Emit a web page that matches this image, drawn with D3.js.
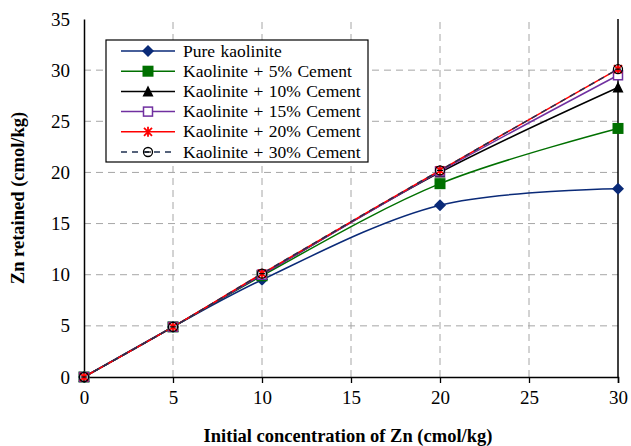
<!DOCTYPE html>
<html>
<head>
<meta charset="utf-8">
<script src="https://cdn.jsdelivr.net/npm/d3@7"></script>
<style>
  body { margin: 0; background: #fff; }
</style>
</head>
<body>
<div id="chart"></div>
<script>
// Chart data
const concentrations = [0, 5, 10, 20, 30];
const seriesNames = [
  "Pure kaolinite",
  "Kaolinite + 5% Cement",
  "Kaolinite + 10% Cement",
  "Kaolinite + 15% Cement",
  "Kaolinite + 20% Cement",
  "Kaolinite + 30% Cement"
];
const pureKaolinite = [0, 4.9, 9.5, 16.8, 18.4];
const cement5 = [0, 4.9, 9.9, 18.9, 24.3];
const cement10 = [0, 4.9, 10.0, 20.0, 28.3];
const cement15 = [0, 4.9, 10.0, 20.1, 29.5];
const cement20 = [0, 4.9, 10.1, 20.2, 30.1];
const cement30 = [0, 4.9, 10.1, 20.2, 30.1];
const xTicks = [0, 5, 10, 15, 20, 25, 30];
const yTicks = [0, 5, 10, 15, 20, 25, 30, 35];

const FONT = "Liberation Serif";
const width = 631, height = 446;
const margin = { top: 19, right: 13, bottom: 69, left: 84 };

const svg = d3.select("#chart").append("svg")
  .attr("width", width)
  .attr("height", height);

const x = d3.scaleLinear().domain([0, 30]).range([margin.left, width - margin.right]);
const y = d3.scaleLinear().domain([0, 35]).range([height - margin.bottom, margin.top]);

// Grid lines
const grid = svg.append("g").attr("class", "grid");
grid.selectAll("line.h")
  .data(yTicks.filter(d => d > 0 && d < 35))
  .enter().append("line")
  .attr("x1", x(0)).attr("x2", x(30))
  .attr("y1", d => y(d)).attr("y2", d => y(d))
  .attr("stroke", "#a6a6a6").attr("stroke-dasharray", "7,5");
grid.selectAll("line.v")
  .data(xTicks.filter(d => d > 0 && d < 30))
  .enter().append("line")
  .attr("y1", y(0)).attr("y2", y(35))
  .attr("x1", d => x(d)).attr("x2", d => x(d))
  .attr("stroke", "#a6a6a6").attr("stroke-dasharray", "7,5");

// Axes
const xAxis = svg.append("g")
  .attr("transform", `translate(0,${y(0)})`)
  .call(d3.axisBottom(x).tickValues(xTicks).tickSize(6).tickPadding(8));
const yAxis = svg.append("g")
  .attr("transform", `translate(${x(0)},0)`)
  .call(d3.axisLeft(y).tickValues(yTicks).tickSize(0).tickPadding(14));

[xAxis, yAxis].forEach(a => {
  a.attr("font-family", FONT).attr("font-size", 19);
  a.select(".domain").attr("stroke", "#000").attr("stroke-width", 1.5);
  a.selectAll("line").attr("stroke", "#000").attr("stroke-width", 1.3);
  a.selectAll("text").attr("fill", "#000").attr("font-family", FONT);
});

// Right border line
svg.append("line")
  .attr("x1", x(30)).attr("x2", x(30))
  .attr("y1", y(0)).attr("y2", y(35))
  .attr("stroke", "#000").attr("stroke-width", 1.5);

// Series
const series = [
  { name: seriesNames[0], values: pureKaolinite, color: "#0a2a78", marker: "diamond" },
  { name: seriesNames[1], values: cement5, color: "#007000", marker: "square" },
  { name: seriesNames[2], values: cement10, color: "#000000", marker: "triangle" },
  { name: seriesNames[3], values: cement15, color: "#7030a0", marker: "openSquare" },
  { name: seriesNames[4], values: cement20, color: "#ff0000", marker: "star" },
  { name: seriesNames[5], values: cement30, color: "#1f3050", marker: "circle", dash: "6,5" }
];

const line = d3.line()
  .x((d, i) => x(concentrations[i]))
  .y(d => y(d))
  .curve(d3.curveCatmullRom.alpha(0.5));

function drawMarker(g, type, color) {
  if (type === "diamond") {
    g.append("path").attr("d", "M0,-6L6,0L0,6L-6,0Z").attr("fill", color);
  } else if (type === "square") {
    g.append("rect").attr("x", -5.5).attr("y", -5.5).attr("width", 11).attr("height", 11).attr("fill", color);
  } else if (type === "triangle") {
    g.append("path").attr("d", "M0,-6L5.5,5L-5.5,5Z").attr("fill", color);
  } else if (type === "openSquare") {
    g.append("rect").attr("x", -4.5).attr("y", -4.5).attr("width", 9).attr("height", 9)
      .attr("fill", "#fff").attr("stroke", color).attr("stroke-width", 1.5);
  } else if (type === "star") {
    g.append("path").attr("d", "M-4,-4L4,4M-4,4L4,-4M0,-5L0,5")
      .attr("stroke", color).attr("stroke-width", 1.8);
  } else if (type === "circle") {
    g.append("circle").attr("r", 4.5).attr("fill", "none")
      .attr("stroke", "#000").attr("stroke-width", 1.3);
    g.append("line").attr("x1", -3).attr("x2", 3).attr("stroke", "#000").attr("stroke-width", 1.2);
  }
}

series.forEach(s => {
  svg.append("path")
    .datum(s.values)
    .attr("d", line)
    .attr("fill", "none")
    .attr("stroke", s.color)
    .attr("stroke-width", 1.5)
    .attr("stroke-dasharray", s.dash || null);
});

series.forEach(s => {
  s.values.forEach((v, i) => {
    const g = svg.append("g").attr("transform", `translate(${x(concentrations[i])},${y(v)})`);
    drawMarker(g, s.marker, s.color);
  });
});

// Legend
const legend = svg.append("g").attr("transform", "translate(106,40)");
legend.append("rect")
  .attr("width", 262).attr("height", 122)
  .attr("fill", "#fff").attr("stroke", "#000").attr("stroke-width", 1.2);
series.forEach((s, i) => {
  const row = legend.append("g").attr("transform", `translate(0,${11 + i * 20.2})`);
  row.append("line")
    .attr("x1", 15).attr("x2", 69)
    .attr("stroke", s.color).attr("stroke-width", 1.5)
    .attr("stroke-dasharray", s.dash || null);
  const m = row.append("g").attr("transform", "translate(42,0)");
  drawMarker(m, s.marker, s.color);
  row.append("text")
    .attr("x", 77).attr("y", 5.5)
    .attr("font-family", FONT)
    .attr("font-size", 17.5)
    .attr("word-spacing", 1)
    .text(s.name);
});

// Axis titles
svg.append("text")
  .attr("x", (x(0) + x(30)) / 2 - 3)
  .attr("y", 442)
  .attr("text-anchor", "middle")
  .attr("font-family", FONT)
  .attr("font-size", 18.5).attr("font-weight", "bold")
  .text("Initial concentration of Zn (cmol/kg)");

svg.append("text")
  .attr("transform", `translate(24,${(y(0) + y(35)) / 2}) rotate(-90)`)
  .attr("text-anchor", "middle")
  .attr("font-family", FONT)
  .attr("font-size", 18.5).attr("font-weight", "bold")
  .text("Zn retained (cmol/kg)");
</script>
</body>
</html>
